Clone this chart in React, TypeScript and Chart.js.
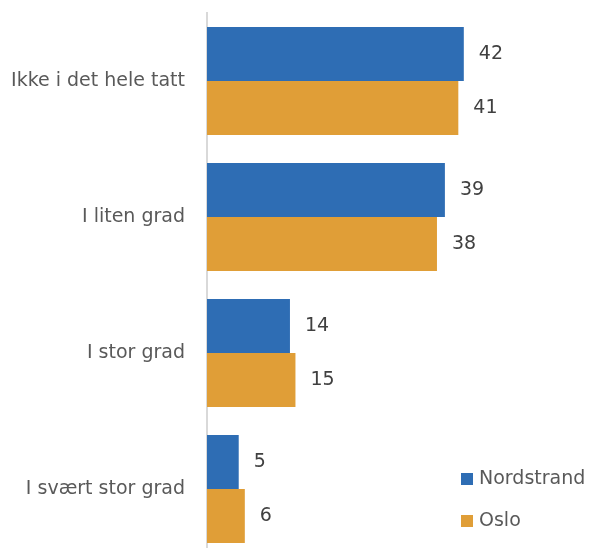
import React, { useEffect, useRef } from "react";
import { Chart, registerables } from "chart.js";

Chart.register(...registerables);

const categories = ["Ikke i det hele tatt", "I liten grad", "I stor grad", "I svært stor grad"];
const seriesNames = ["Nordstrand", "Oslo"];
const nordstrand = [42.1, 39.0, 13.6, 5.2];
const oslo = [41.2, 37.7, 14.5, 6.2];
const nordstrandLabels = ["42", "39", "14", "5"];
const osloLabels = ["41", "38", "15", "6"];
const colors = ["#2E6DB4", "#E09E37"];

const FONT = "'DejaVu Sans', sans-serif";

export default function App() {
  const ref = useRef<HTMLCanvasElement | null>(null);

  useEffect(() => {
    if (!ref.current) return;
    const labelSets = [nordstrandLabels, osloLabels];

    const valueLabels = {
      id: "valueLabels",
      afterDatasetsDraw(chart: any) {
        const ctx = chart.ctx;
        ctx.save();
        ctx.font = `19px ${FONT}`;
        ctx.fillStyle = "#404040";
        ctx.textAlign = "left";
        ctx.textBaseline = "middle";
        chart.data.datasets.forEach((_: any, di: number) => {
          const meta = chart.getDatasetMeta(di);
          meta.data.forEach((el: any, i: number) => {
            ctx.fillText(labelSets[di][i], el.x + 15, el.y);
          });
        });
        ctx.restore();
      },
    };

    const legendPlugin = {
      id: "customLegend",
      afterDraw(chart: any) {
        const ctx = chart.ctx;
        const area = chart.chartArea;
        ctx.save();
        ctx.font = `19px ${FONT}`;
        ctx.textAlign = "left";
        ctx.textBaseline = "middle";
        const x0 = area.right - 112;
        const ys = [area.top + 466, area.top + 508];
        seriesNames.forEach((name, i) => {
          ctx.fillStyle = colors[i];
          ctx.fillRect(x0, ys[i] - 6, 12, 12);
          ctx.fillStyle = "#595959";
          ctx.fillText(name, x0 + 18, ys[i]);
        });
        ctx.restore();
      },
    };

    const chart = new Chart(ref.current, {
      type: "bar",
      data: {
        labels: categories,
        datasets: [
          { label: seriesNames[0], data: nordstrand, backgroundColor: colors[0] },
          { label: seriesNames[1], data: oslo, backgroundColor: colors[1] },
        ],
      },
      options: {
        indexAxis: "y",
        responsive: false,
        animation: false,
        layout: { padding: { top: 13, right: 20, bottom: 3, left: 0 } },
        datasets: {
          bar: { categoryPercentage: 0.794, barPercentage: 1.0 },
        },
        plugins: {
          legend: { display: false },
          tooltip: { enabled: false },
        },
        scales: {
          x: {
            display: false,
            min: 0,
            max: 60,
          },
          y: {
            afterFit(scale: any) {
              scale.width = 207;
              scale.paddingTop = 0;
              scale.paddingBottom = 0;
            },
            grid: { display: false, drawTicks: false },
            border: { display: true, color: "#d9d9d9", width: 2 },
            ticks: {
              padding: 22,
              color: "#595959",
              font: { family: FONT, size: 19 },
            },
          },
        },
      },
      plugins: [valueLabels, legendPlugin],
    } as any);

    return () => chart.destroy();
  }, []);

  return (
    <div style={{ position: "fixed", left: 0, top: 0, width: 593, height: 560, background: "#fff" }}>
      <canvas ref={ref} width={593} height={560} style={{ display: "block" }} />
    </div>
  );
}
